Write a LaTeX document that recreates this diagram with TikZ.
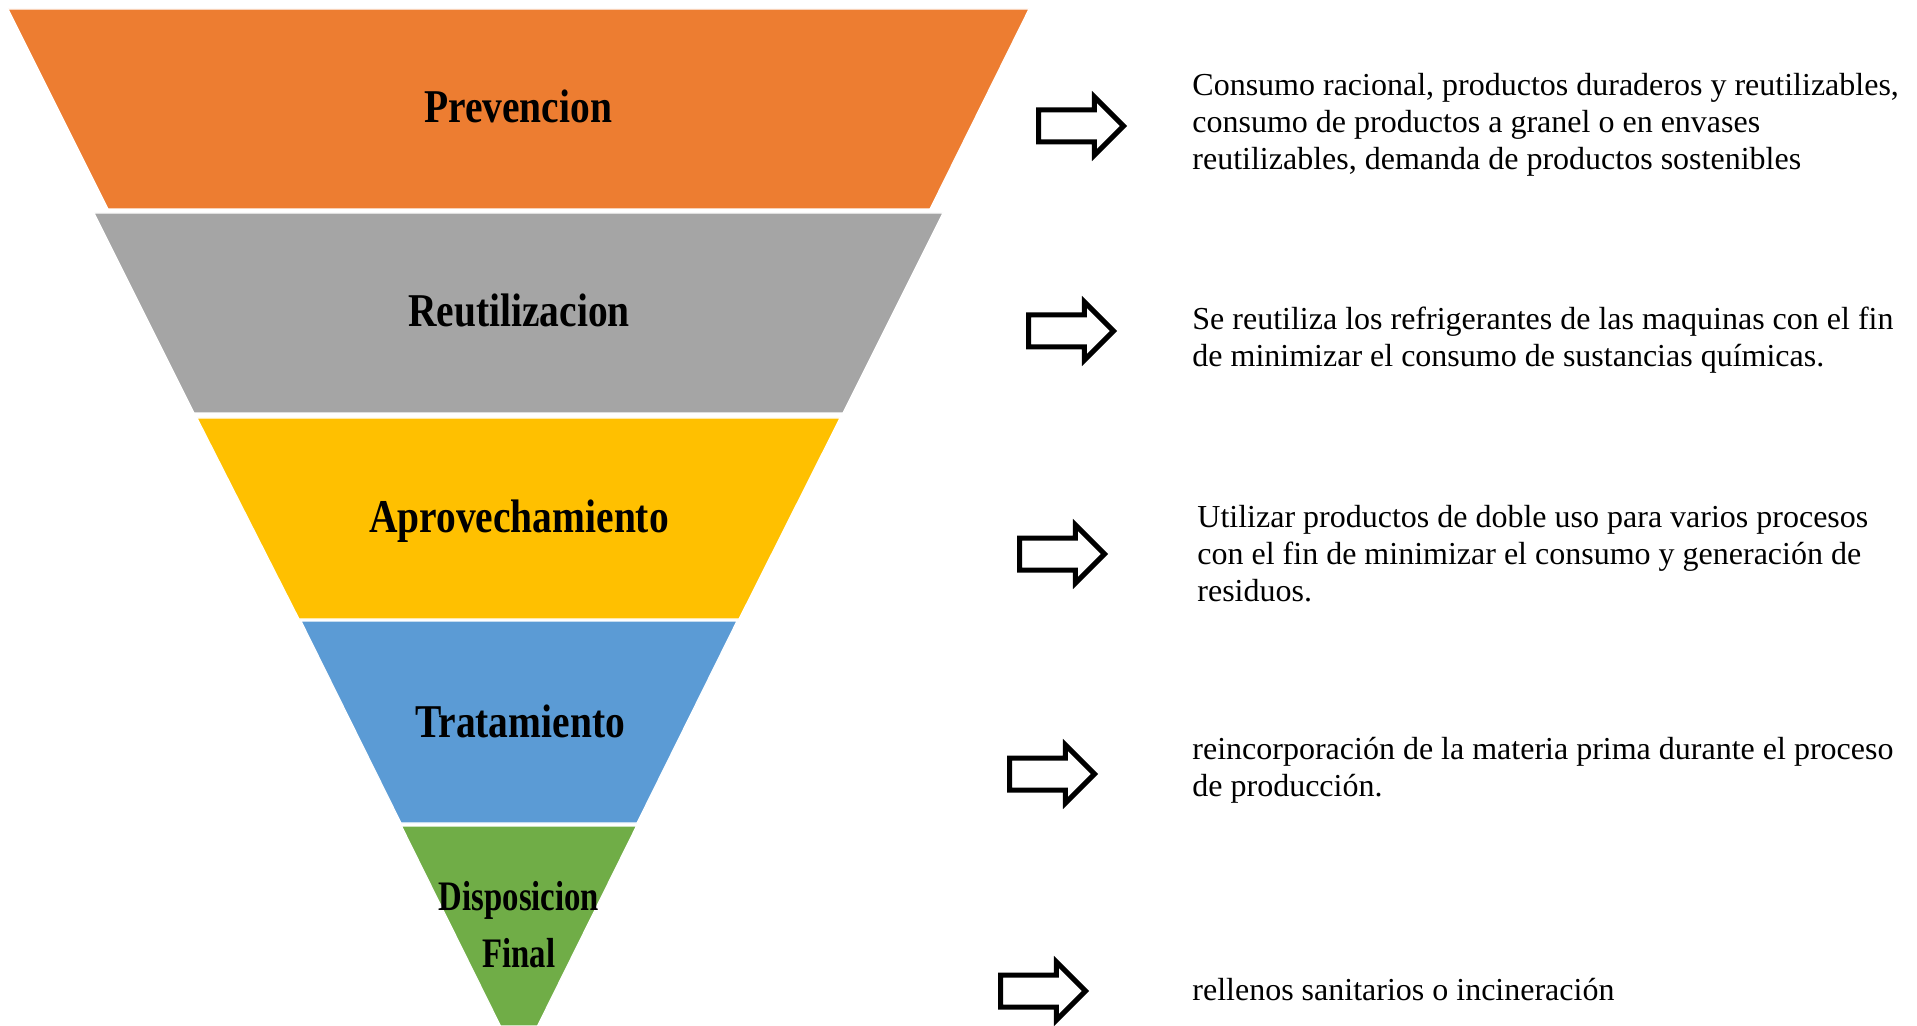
\documentclass[tikz,border=0pt]{standalone}
\usepackage{fontspec}
\setmainfont{Liberation Serif}
\newfontfamily\tierfont[FakeStretch=0.84]{Liberation Serif}
\newfontfamily\tiernarrow[FakeStretch=0.78]{Liberation Serif}
\usetikzlibrary{shapes.arrows}

\definecolor{prevorange}{HTML}{ED7D31}
\definecolor{reutgray}{HTML}{A5A5A5}
\definecolor{aproyellow}{HTML}{FFC000}
\definecolor{tratblue}{HTML}{5B9BD5}
\definecolor{dispgreen}{HTML}{70AD47}

\begin{document}
\begin{tikzpicture}[x=0.5pt,y=-0.5pt,
  tier/.style={draw=white,line width=0.6pt},
  tier label/.style={anchor=base,inner sep=0pt,font=\tierfont\bfseries\fontsize{23.5}{28}\selectfont},
  low label/.style={anchor=base,inner sep=0pt,align=center,font=\tiernarrow\bfseries\fontsize{21}{28.5}\selectfont},
  hollow arrow/.style={single arrow,draw=black,fill=white,line width=2.5pt,inner xsep=0pt,
    inner ysep=6.75pt,minimum height=42.5pt,single arrow head extend=6.6pt,anchor=tail},
  note/.style={anchor=base west,inner sep=0pt,align=left,font=\fontsize{16}{18.5}\selectfont}]

  \useasboundingbox (0,0) rectangle (1917,1026);

  % inverted pyramid
  \filldraw[tier,fill=prevorange] (8,9) -- (1029,9) -- (930,209) -- (108,209) -- cycle;
  \filldraw[tier,fill=reutgray] (94,213) -- (943,213) -- (843,413) -- (194,413) -- cycle;
  \filldraw[tier,fill=aproyellow] (197,418) -- (840,418) -- (739,619) -- (299,619) -- cycle;
  \filldraw[tier,fill=tratblue] (301,621) -- (737,621) -- (637,823) -- (401,823) -- cycle;
  \filldraw[tier,fill=dispgreen] (401.5,826) -- (636.5,826) -- (537.5,1026) -- (500.5,1026) -- cycle;

  \node[tier label] (prev) at (518,123) {Prevencion};
  \node[tier label] (reut) at (519,327) {Reutilizacion};
  \node[tier label] (apro) at (519,532) {Aprovechamiento};
  \node[tier label] (trat) at (520,737) {Tratamiento};
  % base sits on the last line
  \node[low label] (disp) at (519,967) {Disposicion\\Final};

  % arrows
  \node[hollow arrow] (a1) at (1036,126) {};
  \node[hollow arrow] (a2) at (1026,331) {};
  \node[hollow arrow] (a3) at (1017,554) {};
  \node[hollow arrow] (a4) at (1007,774) {};
  \node[hollow arrow] (a5) at (998,991) {};

  % descriptions (placed by their last baseline)
  \node[note] (n1) at (1192,170) {Consumo racional, productos duraderos y reutilizables,\\
    consumo de productos a granel o en envases\\reutilizables, demanda de productos sostenibles};
  \node[note] (n2) at (1192,367) {Se reutiliza los refrigerantes de las maquinas con el fin\\
    de minimizar el consumo de sustancias químicas.};
  \node[note] (n3) at (1197,601) {Utilizar productos de doble uso para varios procesos\\
    con el fin de minimizar el consumo y generación de\\residuos.};
  \node[note] (n4) at (1192,796) {reincorporación de la materia prima durante el proceso\\
    de producción.};
  \node[note] (n5) at (1192,1000) {rellenos sanitarios o incineración};

\end{tikzpicture}
\end{document}
